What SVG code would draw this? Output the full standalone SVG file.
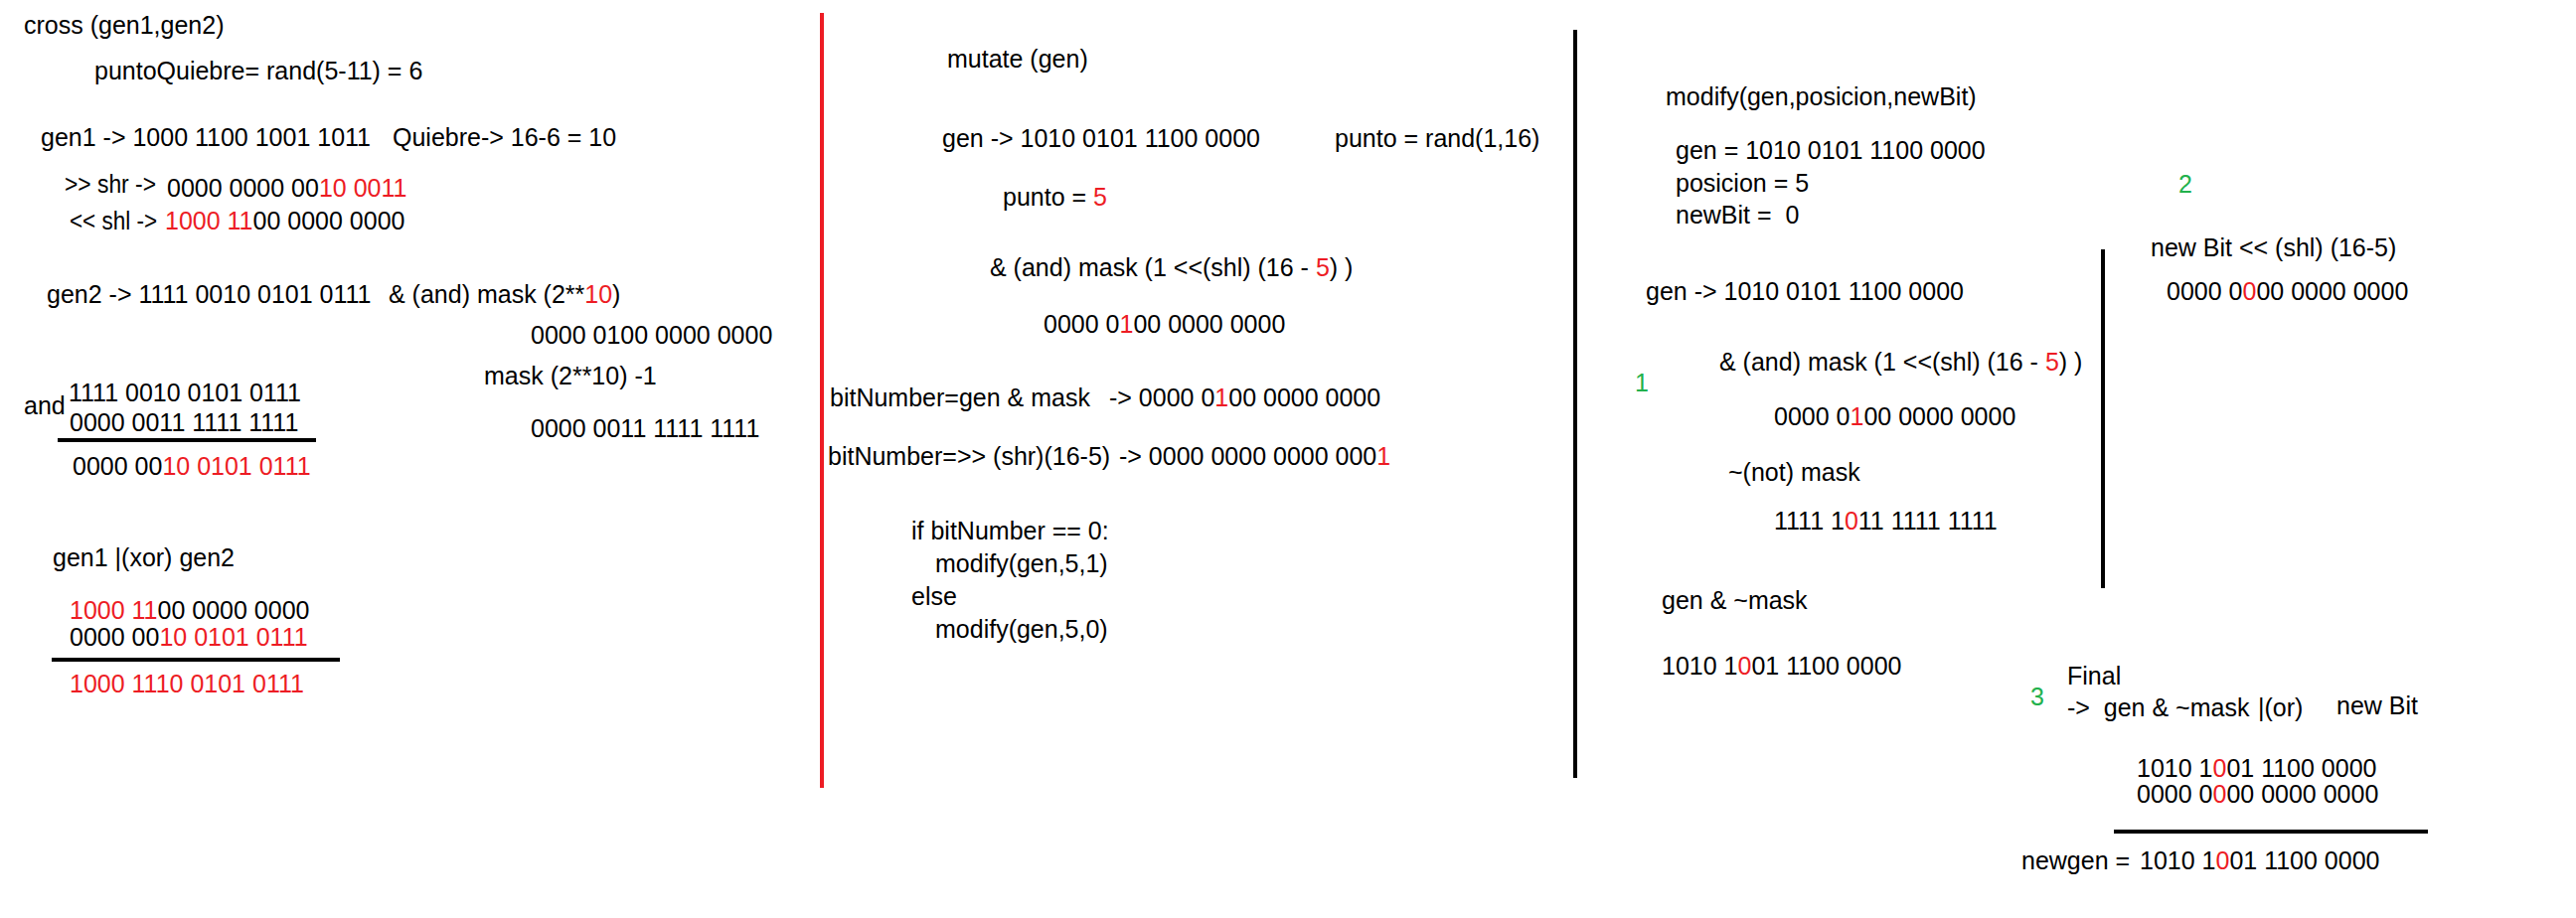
<svg xmlns="http://www.w3.org/2000/svg" width="2592" height="924" viewBox="0 0 2592 924">
<style>
text{font-family:"Liberation Sans",Arial,sans-serif;font-size:25px;fill:#000;white-space:pre}
.r{fill:#ED1C24}
.g{fill:#22B14C}
.rule{stroke:#000;stroke-width:4;stroke-linecap:butt}
.div{stroke-width:4}
</style>
<rect width="2592" height="924" fill="#fff"/>
<g id="dividers">
<line class="div" x1="827" y1="13" x2="827" y2="793" stroke="#ED1C24"/>
<line class="div" x1="1585" y1="30" x2="1585" y2="783" stroke="#000"/>
<line class="div" x1="2116" y1="251" x2="2116" y2="592" stroke="#000"/>
</g>
<g id="cross">
<text x="24" y="34">cross (gen1,gen2)</text>
<text x="95" y="80">puntoQuiebre= rand(5-11) = 6</text>
<text x="41" y="147">gen1 -&gt; 1000 1100 1001 1011</text>
<text x="395" y="147">Quiebre-&gt; 16-6 = 10</text>
<text x="65" y="194" textLength="92" lengthAdjust="spacingAndGlyphs">&gt;&gt; shr -&gt;</text>
<text x="168" y="198">0000 0000 00<tspan class="r">10 0011</tspan></text>
<text x="70" y="231" textLength="88" lengthAdjust="spacingAndGlyphs">&lt;&lt; shl -&gt;</text>
<text x="166" y="231"><tspan class="r">1000 11</tspan>00 0000 0000</text>
<text x="47" y="305">gen2 -&gt; 1111 0010 0101 0111</text>
<text x="391" y="305">&amp; (and) mask (2**<tspan class="r">10</tspan>)</text>
<text x="534" y="346">0000 0100 0000 0000</text>
<text x="487" y="387">mask (2**10) -1</text>
<text x="534" y="440">0000 0011 1111 1111</text>
<text x="24" y="417">and</text>
<text x="69" y="404">1111 0010 0101 0111</text>
<text x="70" y="434">0000 0011 1111 1111</text>
<line class="rule" x1="58" y1="443" x2="318" y2="443"/>
<text x="73" y="478">0000 00<tspan class="r">10 0101 0111</tspan></text>
<text x="53" y="570">gen1 |(xor) gen2</text>
<text x="70" y="623"><tspan class="r">1000 11</tspan>00 0000 0000</text>
<text x="70" y="650">0000 00<tspan class="r">10 0101 0111</tspan></text>
<line class="rule" x1="52" y1="664" x2="342" y2="664"/>
<text x="70" y="697" class="r">1000 1110 0101 0111</text>
</g>
<g id="mutate">
<text x="953" y="68">mutate (gen)</text>
<text x="948" y="148">gen -&gt; 1010 0101 1100 0000</text>
<text x="1343" y="148">punto = rand(1,16)</text>
<text x="1009" y="207">punto = <tspan class="r">5</tspan></text>
<text x="996" y="278">&amp; (and) mask (1 &lt;&lt;(shl) (16 - <tspan class="r">5</tspan>) )</text>
<text x="1050" y="335">0000 0<tspan class="r">1</tspan>00 0000 0000</text>
<text x="835" y="409">bitNumber=gen &amp; mask</text>
<text x="1116" y="409">-&gt; 0000 0<tspan class="r">1</tspan>00 0000 0000</text>
<text x="833" y="468">bitNumber=&gt;&gt; (shr)(16-5)</text>
<text x="1126" y="468">-&gt; 0000 0000 0000 000<tspan class="r">1</tspan></text>
<text x="917" y="543">if bitNumber == 0:</text>
<text x="941" y="576">modify(gen,5,1)</text>
<text x="917" y="609">else</text>
<text x="941" y="642">modify(gen,5,0)</text>
</g>
<g id="modify">
<text x="1676" y="106">modify(gen,posicion,newBit)</text>
<text x="1686" y="160">gen = 1010 0101 1100 0000</text>
<text x="1686" y="193">posicion = 5</text>
<text x="1686" y="225">newBit =  0</text>
<text x="1656" y="302">gen -&gt; 1010 0101 1100 0000</text>
<text x="1645" y="394" class="g">1</text>
<text x="1730" y="373">&amp; (and) mask (1 &lt;&lt;(shl) (16 - <tspan class="r">5</tspan>) )</text>
<text x="1785" y="428">0000 0<tspan class="r">1</tspan>00 0000 0000</text>
<text x="1739" y="484">~(not) mask</text>
<text x="1785" y="533">1111 1<tspan class="r">0</tspan>11 1111 1111</text>
<text x="1672" y="613">gen &amp; ~mask</text>
<text x="1672" y="679">1010 1<tspan class="r">0</tspan>01 1100 0000</text>
</g>
<g id="step2">
<text x="2192" y="194" class="g">2</text>
<text x="2164" y="258">new Bit &lt;&lt; (shl) (16-5)</text>
<text x="2180" y="302">0000 0<tspan class="r">0</tspan>00 0000 0000</text>
</g>
<g id="final">
<text x="2043" y="710" class="g">3</text>
<text x="2080" y="689">Final</text>
<text x="2080" y="721">-&gt;  gen &amp; ~mask</text>
<text x="2272" y="721">|(or)</text>
<text x="2351" y="719">new Bit</text>
<text x="2150" y="782">1010 1<tspan class="r">0</tspan>01 1100 0000</text>
<text x="2150" y="808">0000 0<tspan class="r">0</tspan>00 0000 0000</text>
<line class="rule" x1="2127" y1="837" x2="2443" y2="837"/>
<text x="2034" y="875">newgen =</text>
<text x="2153" y="875">1010 1<tspan class="r">0</tspan>01 1100 0000</text>
</g>
</svg>
